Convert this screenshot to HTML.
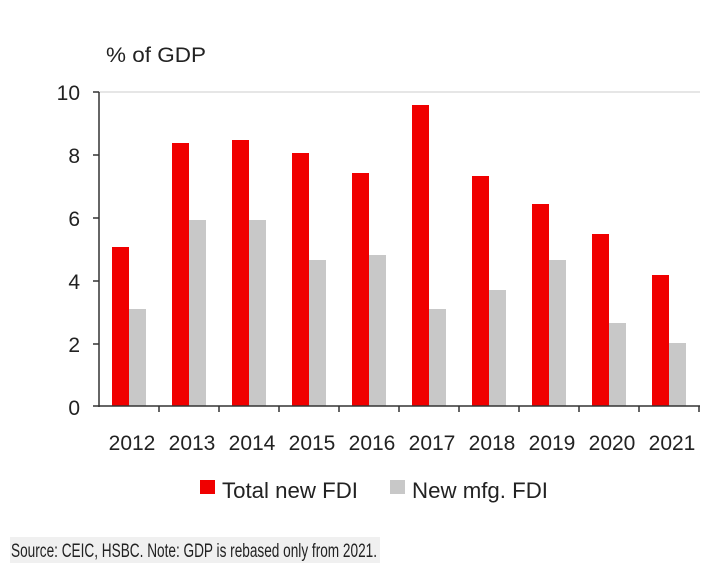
<!DOCTYPE html>
<html><head><meta charset="utf-8"><style>body{margin:0;background:#fff}svg{display:block}</style></head><body>
<svg width="715" height="572" xmlns="http://www.w3.org/2000/svg" font-family="Liberation Sans, sans-serif" fill="#222">
<text x="106" y="62" font-size="21" textLength="100" lengthAdjust="spacingAndGlyphs">% of GDP</text>
<line x1="99" y1="92" x2="700" y2="92" stroke="#ddd" stroke-width="1.5"/>
<g font-size="21" text-anchor="end">
<text x="80" y="100">10</text><text x="80" y="163">8</text><text x="80" y="226">6</text><text x="80" y="289">4</text><text x="80" y="352">2</text><text x="80" y="415">0</text>
</g>
<g>
<rect x="112" y="247" width="17" height="159" fill="#f00000"/><rect x="129" y="309" width="17" height="97" fill="#c8c8c8"/>
<rect x="172" y="143" width="17" height="263" fill="#f00000"/><rect x="189" y="220" width="17" height="186" fill="#c8c8c8"/>
<rect x="232" y="140" width="17" height="266" fill="#f00000"/><rect x="249" y="220" width="17" height="186" fill="#c8c8c8"/>
<rect x="292" y="153" width="17" height="253" fill="#f00000"/><rect x="309" y="260" width="17" height="146" fill="#c8c8c8"/>
<rect x="352" y="173" width="17" height="233" fill="#f00000"/><rect x="369" y="255" width="17" height="151" fill="#c8c8c8"/>
<rect x="412" y="105" width="17" height="301" fill="#f00000"/><rect x="429" y="309" width="17" height="97" fill="#c8c8c8"/>
<rect x="472" y="176" width="17" height="230" fill="#f00000"/><rect x="489" y="290" width="17" height="116" fill="#c8c8c8"/>
<rect x="532" y="204" width="17" height="202" fill="#f00000"/><rect x="549" y="260" width="17" height="146" fill="#c8c8c8"/>
<rect x="592" y="234" width="17" height="172" fill="#f00000"/><rect x="609" y="323" width="17" height="83" fill="#c8c8c8"/>
<rect x="652" y="275" width="17" height="131" fill="#f00000"/><rect x="669" y="343" width="17" height="63" fill="#c8c8c8"/>
</g>
<g stroke="#333" stroke-width="1.5">
<line x1="99" y1="92" x2="99" y2="407"/>
<line x1="93" y1="406" x2="700" y2="406"/>
<line x1="93" y1="92" x2="99" y2="92"/><line x1="93" y1="155" x2="99" y2="155"/><line x1="93" y1="218" x2="99" y2="218"/><line x1="93" y1="281" x2="99" y2="281"/><line x1="93" y1="344" x2="99" y2="344"/>
<line x1="159" y1="406" x2="159" y2="412"/><line x1="219" y1="406" x2="219" y2="412"/><line x1="279" y1="406" x2="279" y2="412"/><line x1="339" y1="406" x2="339" y2="412"/><line x1="399" y1="406" x2="399" y2="412"/><line x1="459" y1="406" x2="459" y2="412"/><line x1="519" y1="406" x2="519" y2="412"/><line x1="579" y1="406" x2="579" y2="412"/><line x1="639" y1="406" x2="639" y2="412"/><line x1="699" y1="406" x2="699" y2="412"/>
</g>
<g font-size="21" text-anchor="middle">
<text x="132" y="450">2012</text><text x="192" y="450">2013</text><text x="252" y="450">2014</text><text x="312" y="450">2015</text><text x="372" y="450">2016</text><text x="432" y="450">2017</text><text x="492" y="450">2018</text><text x="552" y="450">2019</text><text x="612" y="450">2020</text><text x="672" y="450">2021</text>
</g>
<rect x="200" y="480" width="15" height="14" fill="#f00000"/>
<text x="222" y="498" font-size="22" textLength="136" lengthAdjust="spacingAndGlyphs">Total new FDI</text>
<rect x="390" y="480" width="15" height="14" fill="#c8c8c8"/>
<text x="412" y="498" font-size="22" textLength="136" lengthAdjust="spacingAndGlyphs">New mfg. FDI</text>
<rect x="10" y="537" width="370" height="26" fill="#f0f0f0"/>
<text x="11" y="557" font-size="19" textLength="366" lengthAdjust="spacingAndGlyphs">Source: CEIC, HSBC. Note: GDP is rebased only from 2021.</text>
</svg>
</body></html>
